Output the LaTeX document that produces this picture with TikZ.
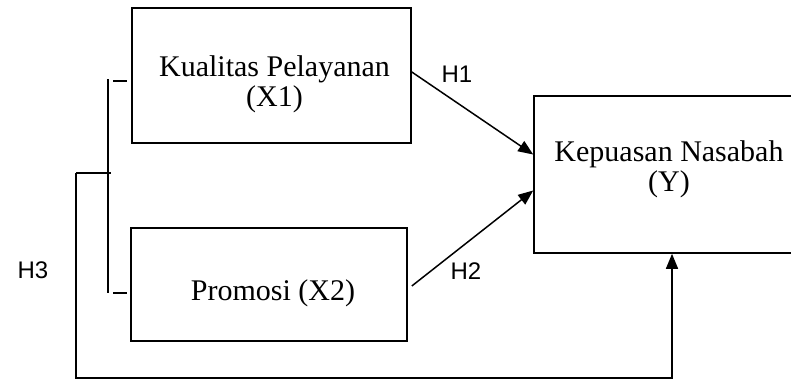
\documentclass[tikz,border=0pt]{standalone}
\usepackage{fontspec}
\setmainfont{Liberation Serif}
\newfontfamily\hfont{Liberation Sans}
\usepackage{tikz}
\usetikzlibrary{shapes,arrows.meta,positioning,fit,calc}

\begin{document}
\begin{tikzpicture}[x=1pt,y=-1pt,
    varbox/.style={rectangle, draw=black, line width=1.6pt},
    vartext/.style={align=center, inner sep=0pt,
                    font=\fontsize{30}{30.5}\selectfont},
    hyplabel/.style={font=\hfont\fontsize{24}{28}\selectfont, inner sep=0pt},
    arr/.style={line width=1.5pt, -{Triangle[length=15pt,width=12pt]}},
    brk/.style={line width=1.2pt}]
    \useasboundingbox (0,0) rectangle (791,380);

    % variabel
    \node[varbox, minimum width=279pt, minimum height=135pt] (x1) at (271.5,75.5) {};
    \node[varbox, minimum width=276pt, minimum height=113pt] (x2) at (269,284.5) {};
    \node[varbox, minimum width=270pt, minimum height=157pt] (y) at (669,174.5) {};
    \node[vartext] (x1t) at ([xshift=3pt,yshift=-9pt]x1.center) {Kualitas Pelayanan\\(X1)};
    \node[vartext] (x2t) at ([xshift=4pt,yshift=-9pt]x2.center) {Promosi (X2)};
    \node[vartext] (yt) at ([yshift=5pt]y.center) {Kepuasan Nasabah\\(Y)};

    % hipotesis
    \draw[arr] ([yshift=3.5pt]x1.east) -- ([yshift=20pt]y.west);
    \draw[arr] ([xshift=4pt,yshift=-1.5pt]x2.east) -- ([yshift=-16pt]y.west);
    \node[hyplabel] (h1) at (457,74) {H1};
    \node[hyplabel] (h2) at (466,271) {H2};
    \node[hyplabel] (h3) at (33,270) {H3};

    % simultan
    \coordinate (join) at (76,173);
    \coordinate (top) at (108,79);
    \coordinate (bot) at (108,293);
    \draw[brk] (top) -- (bot);
    \draw[brk] (join) -- (111,173);
    \draw[brk] ([xshift=5pt]top |- 0,81) -- ([xshift=-4pt]x1.west |- 0,81);
    \draw[brk] ([xshift=5pt]bot) -- ([xshift=-3pt]x2.west |- bot);
    \draw[arr] (join) -- (76,378) -| ([xshift=3pt]y.south);
\end{tikzpicture}
\end{document}
